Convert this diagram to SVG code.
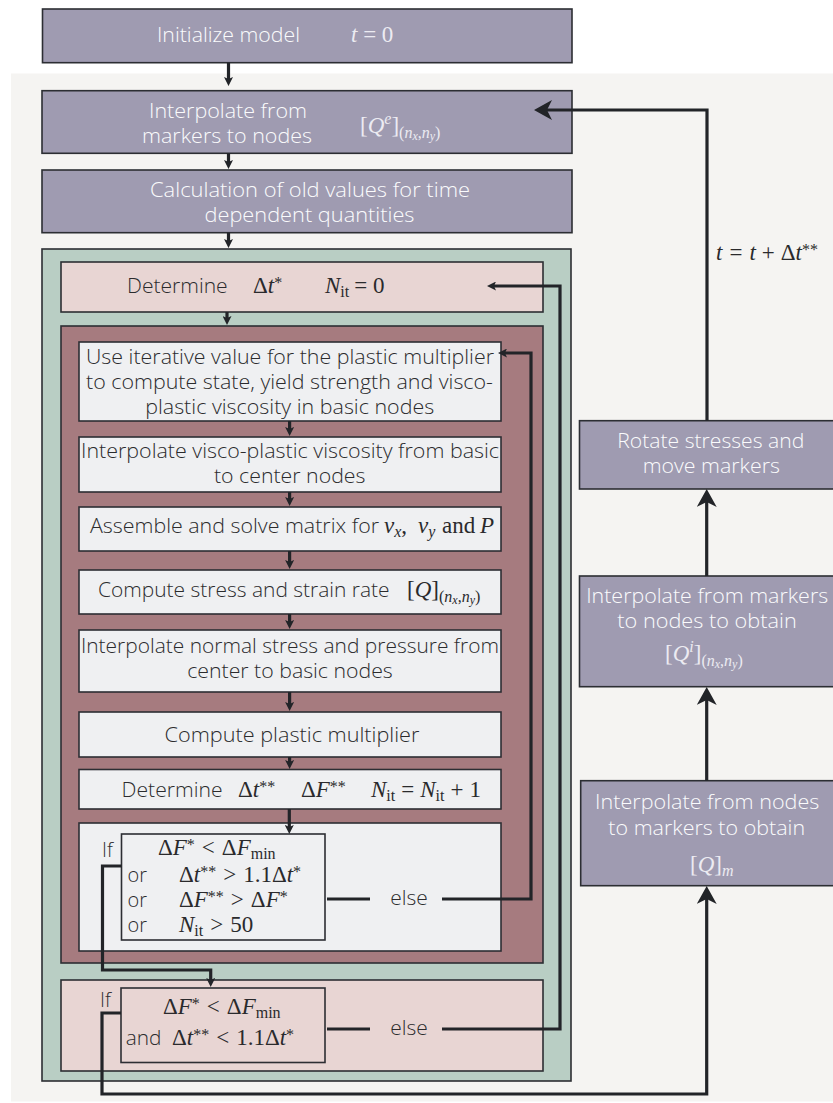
<svg xmlns="http://www.w3.org/2000/svg" width="833" height="1103" viewBox="0 0 833 1103">
<style>
.bd{stroke:#2c2e33;stroke-width:1.6}
.pu{fill:#9f9bb1}
.gr{fill:#b9cec4}
.pk{fill:#e8d5d3}
.dr{fill:#a67b7f}
.wh{fill:#eff0f2}
.s{font-family:"Open Sans",Lato,"Liberation Sans",sans-serif;font-size:19.5px;font-weight:300}
.sw{fill:#fbfbfd}
.sd{fill:#2b2b2d}
.m{font-family:"Liberation Serif","DejaVu Serif",serif;font-size:23px}
.mw{fill:#ecebf2}
.md{fill:#2a2a2c}
.i{font-style:italic}
.c{stroke:#222428;stroke-width:3.2;fill:none}
</style>
<defs>
<marker id="big" viewBox="0 0 18 20" markerWidth="18" markerHeight="20" refX="6" refY="10" orient="auto" markerUnits="userSpaceOnUse"><path d="M0,0 L18,10 L0,20 L5,10 Z" fill="#222428"/></marker>
<marker id="sm" viewBox="0 0 9 9" markerWidth="9" markerHeight="9" refX="3" refY="4.5" orient="auto" markerUnits="userSpaceOnUse"><path d="M0,0 L9,4.5 L0,9 L2,4.5 Z" fill="#222428"/></marker>
</defs>
<rect x="11" y="73.5" width="830" height="1028" fill="#f5f4f2"/>

<g id="init"><rect class="pu bd" x="42.5" y="9" width="529.5" height="53.7"/>
<text class="s sw" x="228.5" y="42" text-anchor="middle" textLength="143" lengthAdjust="spacingAndGlyphs">Initialize model</text>
<text class="m mw" x="351" y="42"><tspan class="i">t</tspan> = 0</text></g>

<g id="interp"><rect class="pu bd" x="42" y="90.7" width="530" height="62.6"/>
<text class="s sw" x="228" y="118" text-anchor="middle" textLength="158" lengthAdjust="spacingAndGlyphs">Interpolate from</text>
<text class="s sw" x="227" y="143" text-anchor="middle" textLength="170" lengthAdjust="spacingAndGlyphs">markers to nodes</text>
<text class="m mw" x="360" y="133">[<tspan class="i">Q</tspan><tspan class="i" font-size="16" dy="-9">e</tspan><tspan dy="9">]</tspan><tspan font-size="16" dy="5">(</tspan><tspan class="i" font-size="16">n</tspan><tspan class="i" font-size="12" dy="2">x</tspan><tspan font-size="16" dy="-2">,</tspan><tspan class="i" font-size="16">n</tspan><tspan class="i" font-size="12" dy="2">y</tspan><tspan font-size="16" dy="-2">)</tspan></text></g>

<g id="calc"><rect class="pu bd" x="42" y="170" width="530" height="62.7"/>
<text class="s sw" x="310" y="197" text-anchor="middle" textLength="320" lengthAdjust="spacingAndGlyphs">Calculation of old values for time</text>
<text class="s sw" x="309.5" y="222" text-anchor="middle" textLength="210" lengthAdjust="spacingAndGlyphs">dependent quantities</text></g>

<g id="timeloop"><rect class="gr bd" x="42" y="249" width="529" height="832"/></g>

<g id="determine"><rect class="pk bd" x="61" y="262" width="482" height="50"/>
<text class="s sd" x="127" y="293" textLength="100.7" lengthAdjust="spacingAndGlyphs">Determine</text>
<text class="m md" x="253" y="293">Δ<tspan class="i">t</tspan><tspan font-size="16" dy="-5">*</tspan></text>
<text class="m md" x="325" y="293"><tspan class="i">N</tspan><tspan font-size="16" dy="4">it</tspan><tspan dy="-4" dx="5">= 0</tspan></text></g>

<g id="iteration"><rect class="dr bd" x="61" y="326" width="482" height="637"/></g>

<g id="plastic"><rect class="wh bd" x="79" y="342" width="422" height="79"/>
<text class="s sd" x="290" y="364" text-anchor="middle" textLength="408" lengthAdjust="spacingAndGlyphs">Use iterative value for the plastic multiplier</text>
<text class="s sd" x="289.5" y="389" text-anchor="middle" textLength="407" lengthAdjust="spacingAndGlyphs">to compute state, yield strength and visco-</text>
<text class="s sd" x="289.7" y="414" text-anchor="middle" textLength="289" lengthAdjust="spacingAndGlyphs">plastic viscosity in basic nodes</text></g>

<g id="viscosity"><rect class="wh bd" x="79" y="437" width="422" height="55"/>
<text class="s sd" x="290" y="458" text-anchor="middle" textLength="418" lengthAdjust="spacingAndGlyphs">Interpolate visco-plastic viscosity from basic</text>
<text class="s sd" x="289.7" y="483" text-anchor="middle" textLength="151.5" lengthAdjust="spacingAndGlyphs">to center nodes</text></g>

<g id="solve"><rect class="wh bd" x="79" y="507" width="422" height="44"/>
<text class="s sd" x="90" y="533" textLength="289" lengthAdjust="spacingAndGlyphs">Assemble and solve matrix for</text>
<text class="m md" y="533"><tspan class="i" x="384">v</tspan><tspan class="i" font-size="16" dy="4">x</tspan><tspan dy="-4">,</tspan><tspan class="i" x="418">v</tspan><tspan class="i" font-size="16" dy="4">y</tspan><tspan dy="-4" x="442">and</tspan><tspan class="i" x="480">P</tspan></text></g>

<g id="stress"><rect class="wh bd" x="79" y="570" width="422" height="44"/>
<text class="s sd" x="98" y="597" textLength="291.6" lengthAdjust="spacingAndGlyphs">Compute stress and strain rate</text>
<text class="m md" x="407" y="597">[<tspan class="i">Q</tspan>]<tspan font-size="16" dy="5">(</tspan><tspan class="i" font-size="16">n</tspan><tspan class="i" font-size="12" dy="2">x</tspan><tspan font-size="16" dy="-2">,</tspan><tspan class="i" font-size="16">n</tspan><tspan class="i" font-size="12" dy="2">y</tspan><tspan font-size="16" dy="-2">)</tspan></text></g>

<g id="normal"><rect class="wh bd" x="79" y="630" width="422" height="62"/>
<text class="s sd" x="290" y="653" text-anchor="middle" textLength="418" lengthAdjust="spacingAndGlyphs">Interpolate normal stress and pressure from</text>
<text class="s sd" x="290" y="678" text-anchor="middle" textLength="205.6" lengthAdjust="spacingAndGlyphs">center to basic nodes</text></g>

<g id="multiplier"><rect class="wh bd" x="79" y="712" width="422" height="45"/>
<text class="s sd" x="292" y="742" text-anchor="middle" textLength="254.8" lengthAdjust="spacingAndGlyphs">Compute plastic multiplier</text></g>

<g id="determine2"><rect class="wh bd" x="79" y="769.5" width="422" height="39.5"/>
<text class="s sd" x="121.6" y="797" textLength="100.9" lengthAdjust="spacingAndGlyphs">Determine</text>
<text class="m md" x="238" y="797">Δ<tspan class="i">t</tspan><tspan font-size="16" dy="-5">**</tspan></text>
<text class="m md" x="301" y="797">Δ<tspan class="i">F</tspan><tspan font-size="16" dy="-5">**</tspan></text>
<text class="m md" x="371" y="797"><tspan class="i">N</tspan><tspan font-size="16" dy="4">it</tspan><tspan dy="-4" dx="6">=</tspan><tspan class="i" dx="6">N</tspan><tspan font-size="16" dy="4">it</tspan><tspan dy="-4" dx="6">+</tspan><tspan dx="6">1</tspan></text></g>

<g id="check1"><rect class="wh bd" x="79" y="823" width="422" height="128"/>
<rect class="wh bd" x="121.5" y="834" width="203.5" height="106"/>
<text class="s sd" x="102" y="857">If</text>
<text class="s sd" x="127.5" y="882" textLength="19.5" lengthAdjust="spacingAndGlyphs">or</text>
<text class="s sd" x="127.5" y="907" textLength="19.5" lengthAdjust="spacingAndGlyphs">or</text>
<text class="s sd" x="127.5" y="932" textLength="19.5" lengthAdjust="spacingAndGlyphs">or</text>
<text class="m md" x="158" y="855">Δ<tspan class="i">F</tspan><tspan font-size="16" dy="-5">*</tspan><tspan dy="5" dx="7">&lt;</tspan><tspan dx="7">Δ</tspan><tspan class="i">F</tspan><tspan font-size="16" dy="4">min</tspan></text>
<text class="m md" x="179" y="882">Δ<tspan class="i">t</tspan><tspan font-size="16" dy="-5">**</tspan><tspan dy="5" dx="7">&gt;</tspan><tspan dx="7">1.1Δ</tspan><tspan class="i">t</tspan><tspan font-size="16" dy="-5">*</tspan></text>
<text class="m md" x="179" y="907">Δ<tspan class="i">F</tspan><tspan font-size="16" dy="-5">**</tspan><tspan dy="5" dx="7">&gt;</tspan><tspan dx="7">Δ</tspan><tspan class="i">F</tspan><tspan font-size="16" dy="-5">*</tspan></text>
<text class="m md" x="179" y="932"><tspan class="i">N</tspan><tspan font-size="16" dy="4">it</tspan><tspan dy="-4" dx="7">&gt;</tspan><tspan dx="7">50</tspan></text>
<text class="s sd" x="409" y="905" text-anchor="middle" textLength="37.5" lengthAdjust="spacingAndGlyphs">else</text></g>

<g id="check2"><rect class="pk bd" x="61" y="980" width="482" height="91"/>
<rect class="pk bd" x="121" y="988" width="204" height="74.5"/>
<text class="s sd" x="100" y="1007">If</text>
<text class="s sd" x="125.7" y="1045" textLength="35.7" lengthAdjust="spacingAndGlyphs">and</text>
<text class="m md" x="163" y="1014">Δ<tspan class="i">F</tspan><tspan font-size="16" dy="-5">*</tspan><tspan dy="5" dx="7">&lt;</tspan><tspan dx="7">Δ</tspan><tspan class="i">F</tspan><tspan font-size="16" dy="4">min</tspan></text>
<text class="m md" x="172" y="1045">Δ<tspan class="i">t</tspan><tspan font-size="16" dy="-5">**</tspan><tspan dy="5" dx="7">&lt;</tspan><tspan dx="7">1.1Δ</tspan><tspan class="i">t</tspan><tspan font-size="16" dy="-5">*</tspan></text>
<text class="s sd" x="409" y="1035" text-anchor="middle" textLength="37.5" lengthAdjust="spacingAndGlyphs">else</text></g>

<g id="rotate"><rect class="pu bd" x="579.5" y="420.7" width="262" height="68.3"/>
<text class="s sw" x="710.8" y="448" text-anchor="middle" textLength="187" lengthAdjust="spacingAndGlyphs">Rotate stresses and</text>
<text class="s sw" x="711.3" y="473" text-anchor="middle" textLength="137.3" lengthAdjust="spacingAndGlyphs">move markers</text></g>

<g id="m2n"><rect class="pu bd" x="579.5" y="576" width="262" height="110.7"/>
<text class="s sw" x="707.2" y="603" text-anchor="middle" textLength="242" lengthAdjust="spacingAndGlyphs">Interpolate from markers</text>
<text class="s sw" x="707" y="628" text-anchor="middle" textLength="179.4" lengthAdjust="spacingAndGlyphs">to nodes to obtain</text>
<text class="m mw" x="665" y="661">[<tspan class="i">Q</tspan><tspan class="i" font-size="16" dy="-9">i</tspan><tspan dy="9">]</tspan><tspan font-size="16" dy="5">(</tspan><tspan class="i" font-size="16">n</tspan><tspan class="i" font-size="12" dy="2">x</tspan><tspan font-size="16" dy="-2">,</tspan><tspan class="i" font-size="16">n</tspan><tspan class="i" font-size="12" dy="2">y</tspan><tspan font-size="16" dy="-2">)</tspan></text></g>

<g id="n2m"><rect class="pu bd" x="580.7" y="780.7" width="261" height="105"/>
<text class="s sw" x="707.2" y="809" text-anchor="middle" textLength="224.3" lengthAdjust="spacingAndGlyphs">Interpolate from nodes</text>
<text class="s sw" x="706.7" y="835" text-anchor="middle" textLength="196.7" lengthAdjust="spacingAndGlyphs">to markers to obtain</text>
<text class="m mw" x="690" y="872">[<tspan class="i">Q</tspan>]<tspan class="i" font-size="16" dy="4">m</tspan></text></g>

<g id="connectors">
<path class="c" d="M228.5,62.7 V80" marker-end="url(#sm)"/>
<path class="c" d="M228.5,153.3 V163" marker-end="url(#sm)"/>
<path class="c" d="M228.5,232.7 V242" marker-end="url(#sm)"/>
<path class="c" d="M227,312 V319" marker-end="url(#sm)"/>
<path class="c" d="M289.6,421 V430" marker-end="url(#sm)"/>
<path class="c" d="M289.6,492 V500" marker-end="url(#sm)"/>
<path class="c" d="M289.6,551 V563" marker-end="url(#sm)"/>
<path class="c" d="M289.6,614 V623" marker-end="url(#sm)"/>
<path class="c" d="M289.6,692 V705" marker-end="url(#sm)"/>
<path class="c" d="M289.6,757 V763" marker-end="url(#sm)"/>
<path class="c" d="M289.3,809 V828" marker-end="url(#sm)"/>
<path class="c" d="M121.5,866 H102.5 V970 H210.7 V981" marker-end="url(#sm)"/>
<path class="c" d="M327,899 H370"/>
<path class="c" d="M442,899 H531 V353 H504" marker-end="url(#sm)"/>
<path class="c" d="M327,1029 H370"/>
<path class="c" d="M442,1029 H560 V286 H493" marker-end="url(#sm)"/>
<path class="c" d="M121,1013 H102 V1094 H706.7 V898" marker-end="url(#big)"/>
<path class="c" d="M706.7,780.7 V699" marker-end="url(#big)"/>
<path class="c" d="M706.7,576 V501" marker-end="url(#big)"/>
<path class="c" d="M707,420.7 V110 H546" marker-end="url(#big)"/>
</g>
<text class="m md" x="716" y="260"><tspan class="i">t</tspan><tspan dx="7">=</tspan><tspan class="i" dx="7">t</tspan><tspan dx="6">+</tspan><tspan dx="6">Δ</tspan><tspan class="i">t</tspan><tspan font-size="16" dy="-5">**</tspan></text>
</svg>
